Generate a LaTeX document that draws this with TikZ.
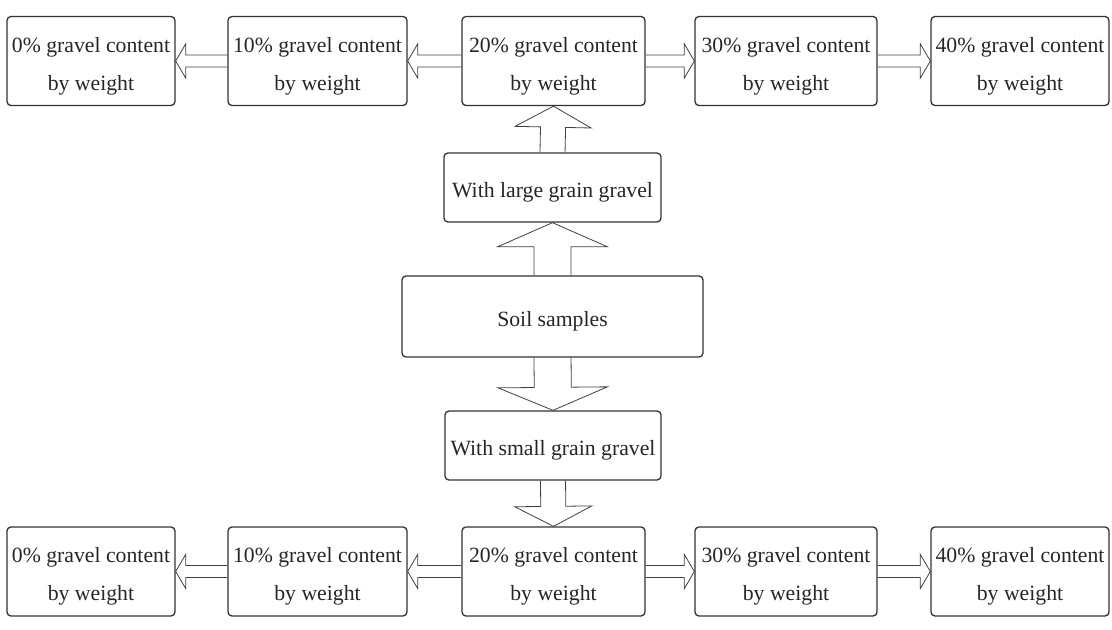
\documentclass[tikz,border=0pt]{standalone}
\usepackage{fontspec}
\setmainfont{Liberation Serif}
\usetikzlibrary{calc}

\begin{document}
\begin{tikzpicture}[x=0.75pt,y=-0.75pt,
  box/.style={draw=black!80,line width=1pt,rounded corners=3pt,align=center,
    font=\fontsize{16.3}{28.5}\selectfont,text=black!85,inner sep=2pt},
  pct/.style={box,minimum height=66.75pt},
  fat/.style={draw=black!75,line width=0.6pt,line join=miter}]
  \useasboundingbox (0,0) rectangle (1112,629);

  % the two rows of gravel contents
  \foreach \n/\x/\w in {0/91/126pt,10/317.5/134.25pt,20/553.5/137.25pt,30/786/136.5pt,40/1020/133.5pt} {
    \node[pct,minimum width=\w] (t\n) at (\x,61)    {\rule{0pt}{19pt}\n\% gravel content\\by weight};
    \node[pct,minimum width=\w] (b\n) at (\x,571.5) {\rule{0pt}{19pt}\n\% gravel content\\by weight};
  }

  \node[box,minimum width=162.75pt,minimum height=51.75pt] (large) at (552.5,187.5) {\rule{0pt}{18.5pt}With large grain gravel};
  \node[box,minimum width=225.75pt,minimum height=60.75pt] (soil)  at (552.5,316.5) {\rule{0pt}{18.5pt}Soil samples};
  \node[box,minimum width=162pt,minimum height=51.75pt]    (small) at (553,445.5)   {\rule{0pt}{18.5pt}With small grain gravel};

  % hollow arrows: from/to/half shaft/half head/head length
  \foreach \a/\b/\w/\h/\l in {soil.north/large.south/13.9pt/41pt/18pt,
                              large.north/t20.south/9.4pt/28.5pt/15.75pt,
                              soil.south/small.north/13.9pt/41pt/17.25pt,
                              small.south/b20.north/9.4pt/28.9pt/15pt,
                              t20.west/t10.east/4.5pt/12.75pt/7.5pt,
                              t10.west/t0.east/4.5pt/12.75pt/7.5pt,
                              t20.east/t30.west/4.5pt/12.75pt/7.5pt,
                              t30.east/t40.west/4.5pt/12.75pt/7.5pt,
                              b20.west/b10.east/4.5pt/12.75pt/7.5pt,
                              b10.west/b0.east/4.5pt/12.75pt/7.5pt,
                              b20.east/b30.west/4.5pt/12.75pt/7.5pt,
                              b30.east/b40.west/4.5pt/12.75pt/7.5pt} {
    \coordinate (hb) at ($(\b)!\l!(\a)$);
    \draw[fat] ($(\a)!\w!90:(\b)$) -- ($(hb)!\w!90:(\b)$) -- ($(hb)!\h!90:(\b)$) -- (\b)
      -- ($(hb)!\h!-90:(\b)$) -- ($(hb)!\w!-90:(\b)$) -- ($(\a)!\w!-90:(\b)$);
  }
\end{tikzpicture}
\end{document}
